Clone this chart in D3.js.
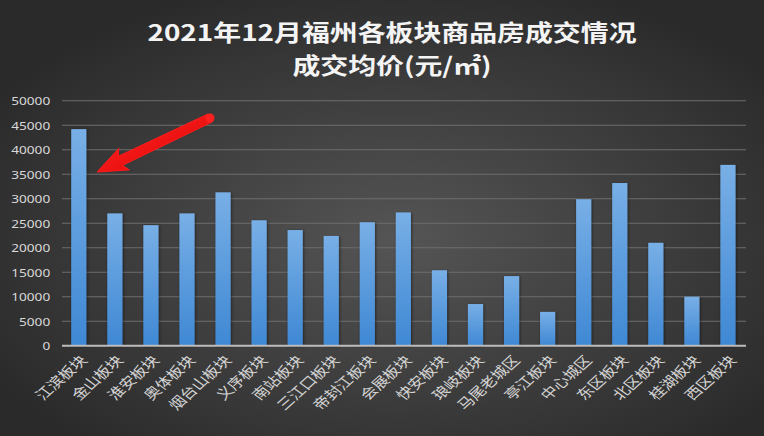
<!DOCTYPE html>
<html>
<head>
<meta charset="utf-8">
<script src="https://cdn.jsdelivr.net/npm/d3@7"></script>
<style>
html,body{margin:0;padding:0;background:#333;}
svg{display:block;}
</style>
</head>
<body>
<div id="chart"></div>
<script>
// ---- data ----
const categories = ["江滨板块","金山板块","淮安板块","奥体板块","烟台山板块","义序板块","南站板块","三江口板块","帝封江板块","会展板块","快安板块","琅岐板块","马尾老城区","亭江板块","中心城区","东区板块","北区板块","桂湖板块","西区板块"];
const values = [44200,27000,24600,27000,31300,25600,23600,22400,25200,27200,15400,8500,14200,6900,29900,33200,21000,10000,36900];
const yTicks = [0,5000,10000,15000,20000,25000,30000,35000,40000,45000,50000];
const titleLines = ["2021年12月福州各板块商品房成交情况","成交均价(元/㎡)"];

const W = 764, H = 436, SX = 1.24;          // picture is stretched horizontally
const VW = W / SX;
const svg = d3.select("#chart").append("svg")
  .attr("width", W).attr("height", H)
  .attr("viewBox", `0 0 ${VW} ${H}`)
  .attr("preserveAspectRatio", "none");

const defs = svg.append("defs");
const bg = defs.append("radialGradient").attr("id","bg")
  .attr("cx","52%").attr("cy","55%").attr("r","62%");
bg.append("stop").attr("offset","0%").attr("stop-color","#555555");
bg.append("stop").attr("offset","100%").attr("stop-color","#2a2a2a");
const bar = defs.append("linearGradient").attr("id","bar")
  .attr("x1","0").attr("y1","0").attr("x2","0").attr("y2","1");
bar.append("stop").attr("offset","0%").attr("stop-color","#78afe6");
bar.append("stop").attr("offset","100%").attr("stop-color","#3f88d4");
const sh = defs.append("filter").attr("id","sh").attr("x","-30%").attr("y","-10%").attr("width","160%").attr("height","120%");
sh.append("feDropShadow").attr("dx",0.6).attr("dy",0.6).attr("stdDeviation",1.2).attr("flood-color","#000").attr("flood-opacity",0.55);
const ar = defs.append("linearGradient").attr("id","arrow")
  .attr("x1","0").attr("y1","0").attr("x2","1").attr("y2","1");
ar.append("stop").attr("offset","0%").attr("stop-color","#ff2a2a");
ar.append("stop").attr("offset","100%").attr("stop-color","#e00000");

svg.append("rect").attr("width",VW).attr("height",H).attr("fill","url(#bg)");

const x = d3.scaleBand().domain(categories).range([49, 601.6]).paddingInner(0.58).paddingOuter(0.29);
const y = d3.scaleLinear().domain([0,50000]).range([345.7,100.7]);

// gridlines
svg.append("g").selectAll("line").data(yTicks.filter(d=>d>0)).join("line")
  .attr("x1",50).attr("x2",601.6)
  .attr("y1",d=>y(d)).attr("y2",d=>y(d))
  .attr("stroke","#6e6e6e").attr("stroke-width",1);

// y axis labels
const yAxis = d3.axisLeft(y).tickValues(yTicks).tickSize(0).tickPadding(0).tickFormat(d3.format("d"));
const yg = svg.append("g").attr("transform","translate(40.5,0)").call(yAxis);
yg.select(".domain").remove();
yg.selectAll("text").attr("fill","#d9d9d9").attr("font-size",11)
  .attr("font-family","'Noto Sans','DejaVu Sans',sans-serif").attr("dy","0.36em");

// bars
svg.append("g").selectAll("rect").data(values).join("rect")
  .attr("x",(d,i)=>x(categories[i]))
  .attr("width",x.bandwidth())
  .attr("y",d=>y(d))
  .attr("height",d=>y(0)-y(d))
  .attr("fill","url(#bar)")
  .attr("filter","url(#sh)");

// x axis
const xAxis = d3.axisBottom(x).tickSize(0).tickPadding(0);
const xg = svg.append("g").attr("transform",`translate(0,${y(0)})`).call(xAxis);
xg.select(".domain").attr("stroke","#bdbdbd").attr("stroke-width",2)
  .attr("d",`M50,0H601.6`);
xg.selectAll(".tick text")
  .attr("fill","#d4d4d4").attr("font-size",13.5)
  .attr("font-family","'Noto Sans CJK SC',sans-serif")
  .attr("text-anchor","end")
  .attr("transform","translate(4,12) rotate(-48)")
  .attr("dy","0.35em").attr("y",0);

// title
const tg = svg.append("g").attr("font-family","'Noto Sans CJK SC',sans-serif")
  .attr("fill","#f4f4f4").attr("font-weight","bold").attr("text-anchor","middle");
tg.selectAll("text").data(titleLines).join("text")
  .attr("x",392/SX).attr("y",(d,i)=> i===0 ? 41 : 74)
  .attr("font-size",22.5)
  .text(d=>d);

// red annotation arrow (pixel coords)
const tip=[97,172], tail=[210,118];
const dx=tail[0]-tip[0], dy=tail[1]-tip[1], L=Math.hypot(dx,dy);
const u=[dx/L,dy/L], n=[-u[1],u[0]];
const hl=30, hw=12, sw=5;
const P=(p,a,b)=>[p[0]+u[0]*a+n[0]*b, p[1]+u[1]*a+n[1]*b];
const pts=[tip,P(tip,hl,hw),P(tip,hl-4,sw),P(tail,0,sw*0.9),P(tail,0,-sw*0.9),P(tip,hl-4,-sw),P(tip,hl,-hw)];
const ag = svg.append("g").attr("transform",`scale(${1/SX},1)`);
ag.append("path").attr("d",d3.line()(pts)+"Z").attr("fill","url(#arrow)")
  .attr("stroke","#ff1a1a").attr("stroke-width",1).attr("stroke-linejoin","round");
ag.append("circle").attr("cx",tail[0]).attr("cy",tail[1]).attr("r",sw*0.9).attr("fill","#ff2020");
</script>
</body>
</html>
